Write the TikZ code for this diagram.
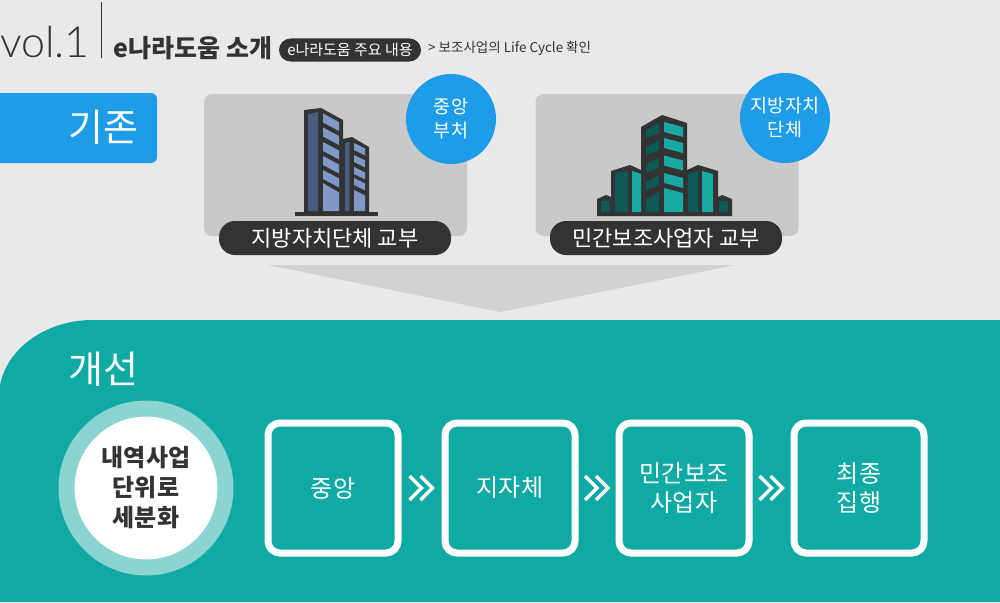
\documentclass[tikz,border=0pt]{standalone}
\usepackage{xcolor}
\usepackage{fontspec}
\setmainfont{Noto Sans CJK KR}
\newfontfamily\volfont{Lato Light}
\usetikzlibrary{positioning,calc}
\definecolor{bgGray}{HTML}{E9E9E9}
\definecolor{cardGray}{HTML}{C9C9C9}
\definecolor{wedgeGray}{HTML}{D2D2D2}
\definecolor{tabBlue}{HTML}{1F9CE8}
\definecolor{panelTeal}{HTML}{10AAA4}
\definecolor{ringTeal}{HTML}{8BD4D1}
\definecolor{inkDark}{HTML}{333333}
\definecolor{slateDark}{HTML}{4A5D80}
\definecolor{slateLight}{HTML}{7F98C8}
\definecolor{tealDark}{HTML}{0B5A57}
\definecolor{tealLight}{HTML}{18A9A3}
\newcommand{\fs}[2]{\fontsize{#1}{#2}\selectfont}

\begin{document}
\begin{tikzpicture}[
    x=1pt, y=-1pt,
    card/.style={fill=cardGray, rounded corners=8pt, minimum width=263pt, minimum height=142pt},
    badge/.style={circle, fill=tabBlue, text=white, align=center, minimum size=90pt, inner sep=0pt, font=\fs{18.5}{24}},
    pill/.style={fill=inkDark, text=white, rounded corners=16pt, minimum width=232pt, minimum height=34pt, inner sep=0pt, font=\fs{22}{24}},
    flowbox/.style={draw=white, line width=7pt, rounded corners=12pt, align=center, text=white, minimum size=130pt, inner sep=0pt, font=\fs{24}{29}},
    heading/.style={text=white, inner sep=0pt, font=\fs{38}{40}},
    chevrons/.pic={
        \draw[white, line width=3.5pt] (-12,-12) -- (0,0) -- (-12,12);
        \draw[white, line width=3.5pt] (-1,-12) -- (11,0) -- (-1,12);
    }
]
\fill[bgGray] (0,0) rectangle (1000,602);
\useasboundingbox (0,0) rectangle (1000,602);

\draw[inkDark, line width=1pt] (101,2) -- (101,58);
\node[text=inkDark, inner sep=0pt, font=\volfont\fs{43}{43}] (vol) at (45,42) {vol.1};
\node[text=inkDark, inner sep=0pt, font=\bfseries\fs{25}{25}] (title) at (193,48) {e나라도움 소개};
\node[fill=inkDark, text=white, rounded corners=11.5pt, minimum width=142pt, minimum height=23pt, inner sep=0pt, font=\fs{15}{15}] (topic) at (350,50) {e나라도움 주요 내용};
\node[text=inkDark, inner sep=0pt, font=\fs{13.5}{14}, anchor=west] (crumb) at (428,48) {> 보조사업의 Life Cycle 확인};

\fill[tabBlue, rounded corners=6pt] (-10,93) rectangle (157,163);
\node[heading] (before) at (103,127) {기존};

\node[card] (centralcard) at (335.5,165) {};
\node[card] (localcard) at (667,165) {};
\node[badge] (central) at (451,119) {중앙\\부처};
\node[badge] (local) at (785,118) {지방자치\\단체};

\fill[inkDark] (295,212) rectangle (378,216);
\fill[inkDark] (304,110) -- (321,108) -- (343,120) -- (343,139) -- (352,137) -- (369,147) -- (369,212) -- (304,212) -- cycle;
\fill[slateDark] (308,114) -- (318,112) -- (318,211) -- (308,211) -- cycle;
\fill[slateDark] (345,143) -- (349.5,142) -- (349.5,211) -- (345,211) -- cycle;
\foreach \y in {113.5,127.5,142,156,170}
    \fill[slateLight] (323,\y) -- (339,\y+8.5) -- (339,\y+17.5) -- (323,\y+9) -- cycle;
\fill[slateLight] (323,183) -- (339,192.5) -- (339,211) -- (323,211) -- cycle;
\foreach \y in {143,155,167,178}
    \fill[slateLight] (354,\y) -- (365,\y+5.5) -- (365,\y+12.5) -- (354,\y+7) -- cycle;
\fill[slateLight] (354,190) -- (365,195.5) -- (365,211) -- (354,211) -- cycle;

\fill[inkDark] (597,199) -- (606,195) -- (611,197) -- (611,171) -- (630,165) -- (641,170) -- (641,127) -- (662,115) -- (687,123) -- (687,170) -- (698,165) -- (718,171) -- (718,197) -- (722,195) -- (732,199) -- (732,216) -- (597,216) -- cycle;
\foreach \y in {0,17.3,34.6,52}
    \fill[tealDark] (646,130+\y) -- (659,123+\y) -- (659,133+\y) -- (646,138+\y) -- cycle;
\fill[tealDark] (646,199) -- (659,192) -- (659,212) -- (646,212) -- cycle;
\foreach \y in {0,16,33.5,51}
    \fill[tealLight] (664,122+\y) -- (683,127+\y) -- (683,137+\y) -- (664,132+\y) -- cycle;
\fill[tealLight] (664,188) -- (683,193) -- (683,212) -- (664,212) -- cycle;
\fill[tealDark] (615,173) -- (628,171) -- (628,212) -- (615,212) -- cycle;
\fill[tealLight] (632,171) -- (641,174) -- (641,212) -- (632,212) -- cycle;
\fill[tealDark] (688,174) -- (698,171) -- (698,212) -- (688,212) -- cycle;
\fill[tealLight] (702,171) -- (713,174) -- (713,212) -- (702,212) -- cycle;
\fill[tealDark] (601,201) rectangle (610,212);
\fill[tealDark] (719,201) rectangle (728,212);

\node[pill] (centralpill) at (335,238) {지방자치단체 교부};
\node[pill] (localpill) at (666,238) {민간보조사업자 교부};

\fill[wedgeGray] (268,265) -- (735,265) -- (500,312) -- cycle;

\fill[panelTeal] (0,602) -- (0,385) .. controls (8,345) and (50,320) .. (92,320) -- (1000,320) -- (1000,602) -- cycle;
\node[heading] (after) at (103,369) {개선};

\node[circle, fill=white, draw=ringTeal, line width=16pt, minimum size=159pt, inner sep=0pt, align=center, text=inkDark, font=\bfseries\fs{24}{30}] (detail) at (146,488) {내역사업\\단위로\\세분화};

\node[flowbox] (stepa) at (333,488) {중앙};
\node[flowbox, right=40pt of stepa] (stepb) {지자체};
\node[flowbox, right=37pt of stepb] (stepc) {민간보조\\사업자};
\node[flowbox, right=38pt of stepc] (stepd) {최종\\집행};

\path ($(stepa.east)!0.5!(stepb.west)$) pic {chevrons};
\path ($(stepb.east)!0.5!(stepc.west)$) pic {chevrons};
\path ($(stepc.east)!0.5!(stepd.west)$) pic {chevrons};
\end{tikzpicture}
\end{document}
